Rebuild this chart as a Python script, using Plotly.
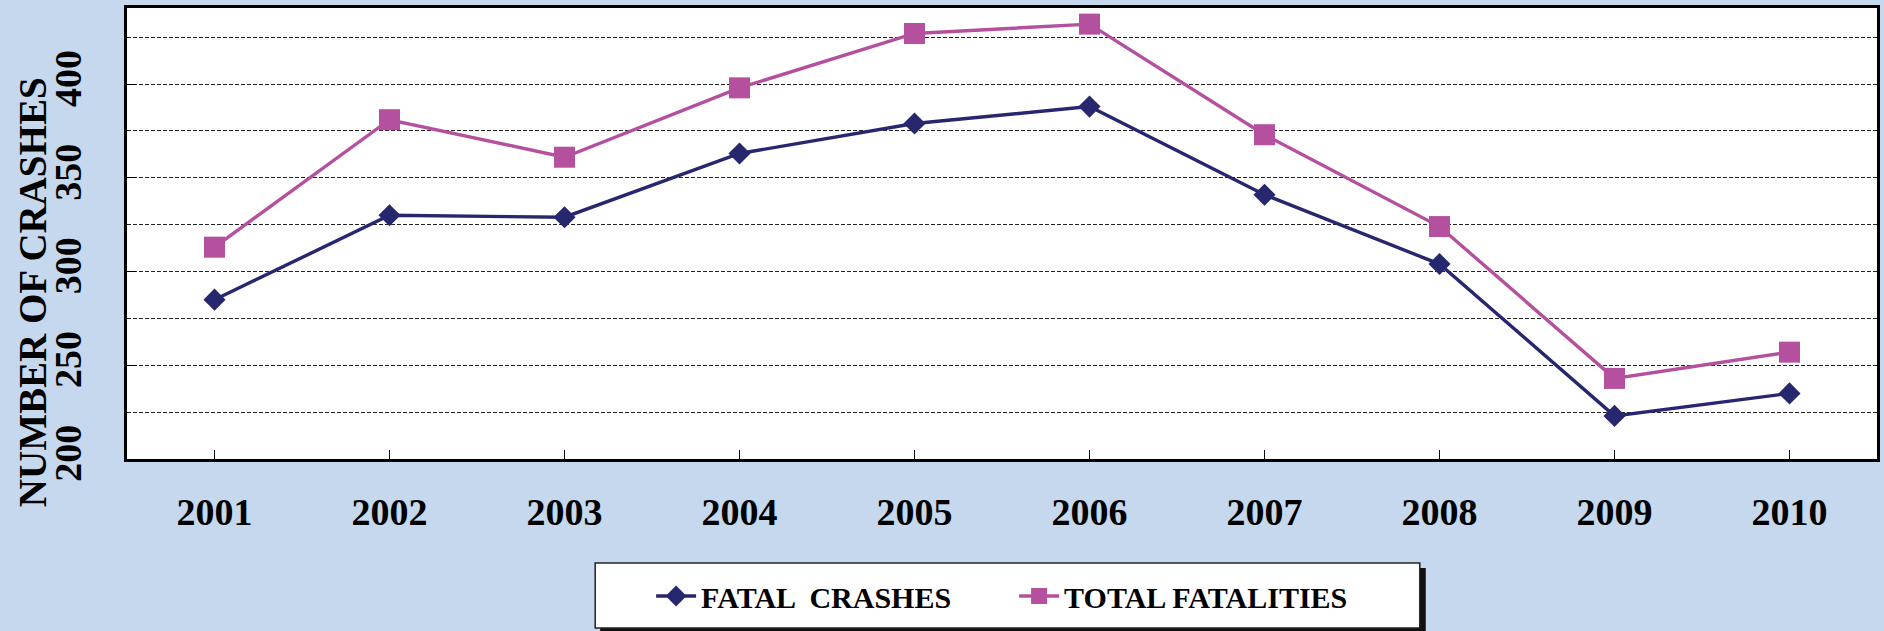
import plotly.graph_objects as go

years = [2001, 2002, 2003, 2004, 2005, 2006, 2007, 2008, 2009, 2010]
fatal_crashes = [285, 330, 329, 363, 379, 388, 341, 304, 223, 235]
total_fatalities = [313, 381, 361, 398, 427, 432, 373, 324, 243, 257]
y_tick_vals = [200, 250, 300, 350, 400]

W, H = 1884, 631
L, R, T, B = 127, 1880, 8, 459  # plot area in pixels
pw, ph = R - L, B - T

def px(x):
    return (x - L) / pw

def py(y):
    return (B - y) / ph

FONT = "Liberation Serif"
NAVY = "#27276F"
MAGENTA = "#B5509F"
BG = "#C5D8EE"

fig = go.Figure()
fig.add_trace(go.Scatter(
    x=years, y=fatal_crashes, mode="lines+markers", name="FATAL  CRASHES",
    line=dict(color=NAVY, width=3.4),
    marker=dict(symbol="diamond", size=17, color=NAVY),
))
fig.add_trace(go.Scatter(
    x=years, y=total_fatalities, mode="lines+markers", name="TOTAL FATALITIES",
    line=dict(color=MAGENTA, width=3.4),
    marker=dict(symbol="square", size=21, color=MAGENTA),
))

# legend box with shadow
fig.add_shape(type="rect", xref="paper", yref="paper",
              x0=px(601), x1=px(1428), y0=py(634), y1=py(568),
              fillcolor="#111111", line=dict(width=0), layer="below")
fig.add_shape(type="rect", xref="paper", yref="paper",
              x0=px(596), x1=px(1422), y0=py(628), y1=py(563),
              fillcolor="white", line=dict(color="#222222", width=1.5), layer="below")

fig.add_annotation(
    text="NUMBER OF CRASHES", xref="paper", yref="paper",
    x=px(33), y=py(292), textangle=-90, showarrow=False,
    xanchor="center", yanchor="middle",
    font=dict(family=FONT, size=39, color="black", weight="bold"),
)

fig.update_layout(
    width=W, height=H,
    margin=dict(l=L, r=W - R, t=T, b=H - B, pad=0),
    paper_bgcolor=BG, plot_bgcolor="white",
    showlegend=True,
    legend=dict(
        orientation="h", x=px(652), y=py(596), xanchor="left", yanchor="middle",
        bgcolor="rgba(0,0,0,0)", borderwidth=0,
        font=dict(family=FONT, size=30, color="black", weight="bold"),
        itemwidth=40, entrywidth=308, entrywidthmode="pixels",
    ),
    xaxis=dict(
        range=[2000.5, 2010.5], tickvals=years, ticktext=[str(y) for y in years],
        ticks="inside", ticklen=9, tickwidth=1.2, tickcolor="black",
        showgrid=False, zeroline=False,
        showline=True, linecolor="black", linewidth=2.5, mirror=True,
        tickfont=dict(family=FONT, size=38, color="black", weight="bold"),
        ticklabelstandoff=18,
    ),
    yaxis=dict(
        range=[200, 440.6], tickvals=y_tick_vals,
        ticks="inside", ticklen=9, tickwidth=1.2, tickcolor="black",
        showgrid=True, gridcolor="#222222", gridwidth=1, griddash="4px,2px",
        minor=dict(dtick=25, showgrid=True, gridcolor="#222222", gridwidth=1,
                   griddash="4px,2px", ticks=""),
        zeroline=False,
        showline=True, linecolor="black", linewidth=2.5, mirror=True,
        tickangle=-90,
        tickfont=dict(family=FONT, size=38, color="black", weight="bold"),
        ticklabelstandoff=28,
    ),
)

fig.write_html(
    "out.html",
    config={"displayModeBar": False},
    post_script="document.body.style.margin='0';document.body.style.background='%s';" % BG,
)
